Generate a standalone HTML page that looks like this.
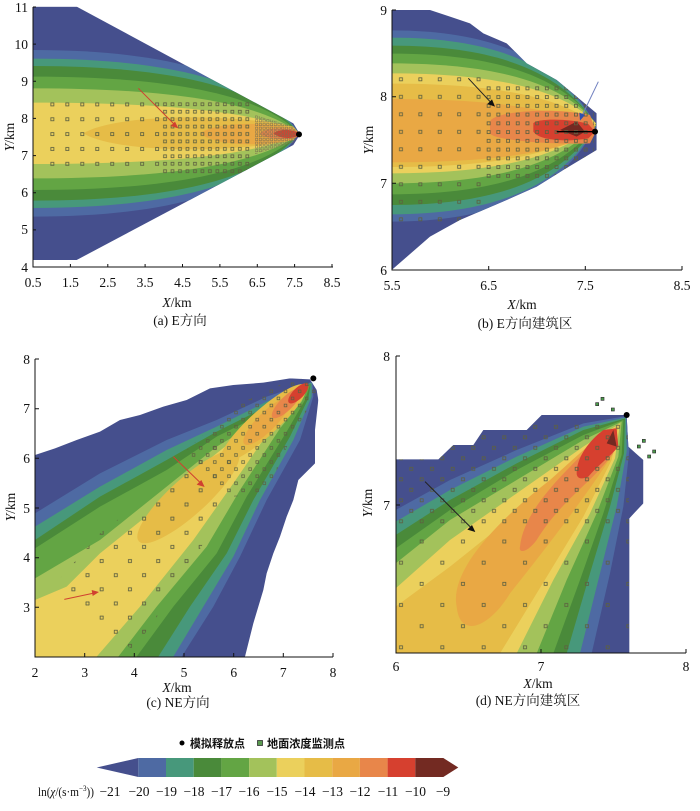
<!DOCTYPE html>
<html><head><meta charset="utf-8"><style>
html,body{margin:0;padding:0;background:#fff;}
svg{display:block;}
text{font-family:"Liberation Serif","Noto Serif CJK SC",serif;fill:#111;}
.t{font-size:13.5px;}
.cj{font-family:"Liberation Serif","Noto Sans CJK SC",sans-serif;}
</style></head><body>
<svg width="700" height="811" viewBox="0 0 700 811" xmlns="http://www.w3.org/2000/svg">
<defs>
<path id="ua" d="M100,-1 C560,-1 800,-0.6 897,0 C800,0.6 560,1 100,1Z"/>
<path id="ub" d="M125,-1 C470,-1 650,-0.6 738,0 C650,0.6 470,1 125,1Z"/>
<clipPath id="envA"><polygon points="100,20 230,20 880,370 900,403 880,435 230,780 100,780"/></clipPath>
<clipPath id="tipA"><polygon points="765,345 880,380 897,403 880,428 765,462"/></clipPath>
<clipPath id="envB"><polygon points="125,30 240,30 300,50 360,70 400,100 470,130 530,190 620,240 680,290 740,340 740,450 640,510 560,560 470,600 330,660 240,710 125,810"/></clipPath>
<clipPath id="envC"><polygon points="105,345 165,325 230,300 300,275 360,240 420,225 490,200 560,180 630,145 700,135 790,128 870,115 930,118 950,150 955,180 945,270 945,370 895,420 880,480 860,530 840,590 820,640 800,700 790,750 760,850 735,950 105,950"/></clipPath>
<clipPath id="envD"><polygon points="137,358 265,358 310,315 370,315 400,270 530,270 575,225 830,225 835,320 880,360 880,490 838,535 838,940 137,940"/></clipPath>
<clipPath id="cpc1"><polygon points="140,760 300,580 560,380 650,300 720,340 640,560 520,760 400,930 330,880 250,820"/></clipPath>
<clipPath id="cpc2"><polygon points="560,330 700,200 850,130 930,110 950,160 870,300 800,460 700,470 620,420"/></clipPath>
<pattern id="pa1" patternUnits="userSpaceOnUse" x="134.55" y="290.7" width="44.9" height="44.6"><rect x="18" y="18" width="9" height="9" fill="none" stroke="#5d6040" stroke-width="2.5"/></pattern>
<pattern id="pa2" patternUnits="userSpaceOnUse" x="483.8" y="323.85" width="22.45" height="22.3"><rect x="7" y="7" width="8.5" height="8.5" fill="none" stroke="#5d6040" stroke-width="2.5"/></pattern>
<pattern id="pa3" patternUnits="userSpaceOnUse" x="764.4" y="334.4" width="11.2" height="11.2"><rect x="2" y="2" width="7" height="7" fill="none" stroke="#7a7050" stroke-width="1.6"/></pattern>
<pattern id="pb1" patternUnits="userSpaceOnUse" x="123.9" y="211.75" width="58.2" height="52.5"><rect x="24.5" y="21.7" width="9" height="9" fill="none" stroke="#5d6040" stroke-width="2.5"/></pattern>
<pattern id="pb2" patternUnits="userSpaceOnUse" x="401.45" y="251.9" width="29.1" height="26.25"><rect x="10" y="8.6" width="9" height="9" fill="none" stroke="#5d6040" stroke-width="2.5"/></pattern>
<pattern id="pc1" patternUnits="userSpaceOnUse" x="-30" y="-30" width="60" height="60" patternTransform="translate(305,748) rotate(45)"><rect x="25.5" y="25.5" width="9" height="9" fill="none" stroke="#5d6040" stroke-width="2.5" transform="rotate(-45 30 30)"/></pattern>
<pattern id="pc2" patternUnits="userSpaceOnUse" x="-15" y="-15" width="30" height="30" patternTransform="translate(305,748) rotate(45)"><rect x="11" y="11" width="8" height="8" fill="none" stroke="#5d6040" stroke-width="2.3" transform="rotate(-45 15 15)"/></pattern>
<pattern id="pd1" patternUnits="userSpaceOnUse" x="122" y="890.25" width="124" height="127"><rect x="26.5" y="27.25" width="9" height="9" fill="none" stroke="#5d6040" stroke-width="2.5"/><rect x="88.5" y="90.75" width="9" height="9" fill="none" stroke="#5d6040" stroke-width="2.5"/></pattern>
<pattern id="pd2" patternUnits="userSpaceOnUse" x="137.5" y="906.25" width="62" height="63"><rect x="11" y="11.25" width="9" height="9" fill="none" stroke="#5d6040" stroke-width="2.5"/><rect x="42" y="42.75" width="9" height="9" fill="none" stroke="#5d6040" stroke-width="2.5"/></pattern>
</defs>

<!-- Panel A -->
<g transform="scale(0.33333)">
<g clip-path="url(#envA)">
<rect x="100" y="20" width="800" height="760" fill="#454f8d"/>
<use href="#ua" transform="translate(0,400) scale(1,250)" fill="#4e6aa3"/>
<use href="#ua" transform="translate(0,400) scale(1,224)" fill="#47987b"/>
<use href="#ua" transform="translate(0,400) scale(1,202)" fill="#4a8a3a"/>
<use href="#ua" transform="translate(0,400) scale(1,170)" fill="#63a544"/>
<use href="#ua" transform="translate(0,400) scale(1,135)" fill="#a3c25b"/>
<use href="#ua" transform="translate(0,400) scale(1,92)" fill="#ebd05c"/>
<path d="M250,400 C350,340 700,340 880,380 L897,400 L880,420 C700,460 350,460 250,400Z" fill="#e6bc47"/>
<path d="M600,400 C650,365 800,365 880,385 L897,400 L880,418 C800,440 650,440 600,400Z" fill="#e9a844"/>
<path d="M780,400 C800,380 870,382 893,395 L893,410 C870,422 800,420 780,400Z" fill="#e8864a"/>
<path d="M820,400 C840,385 870,388 893,397 L893,408 C870,418 840,415 820,400Z" fill="#d6402f"/>
</g>
<rect x="145" y="300" width="340" height="205" fill="url(#pa1)"/>
<rect x="485" y="302" width="265" height="225" fill="url(#pa2)" clip-path="url(#envA)"/>
<rect x="765" y="335" width="122" height="130" fill="url(#pa3)" clip-path="url(#tipA)"/>
<line x1="415" y1="265" x2="525" y2="375" stroke="#d04030" stroke-width="3"/>
<polygon points="535,385 512,378 525,365" fill="#d04030"/>
<circle cx="897" cy="403" r="9" fill="#000"/>
</g>

<!-- Panel B -->
<g transform="translate(350,0) scale(0.33333)">
<g clip-path="url(#envB)">
<rect x="120" y="20" width="640" height="800" fill="#454f8d"/>
<use href="#ub" transform="translate(0,378) scale(1,287)" fill="#4e6aa3"/>
<use href="#ub" transform="translate(0,378) scale(1,265)" fill="#47987b"/>
<use href="#ub" transform="translate(0,376) scale(1,239)" fill="#4a8a3a"/>
<use href="#ub" transform="translate(0,372) scale(1,211)" fill="#63a544"/>
<use href="#ub" transform="translate(0,370) scale(1,180)" fill="#a3c25b"/>
<use href="#ub" transform="translate(0,370) scale(1,150)" fill="#ebd05c"/>
<use href="#ub" transform="translate(0,376) scale(1,125)" fill="#e6bc47"/>
<use href="#ub" transform="translate(0,392) scale(1,95)" fill="#e9a844"/>
<path d="M420,365 C430,335 600,320 720,345 L738,395 L720,430 C600,435 430,420 420,400Z" fill="#e8864a"/>
<path d="M550,370 C560,355 660,355 715,372 L735,395 L715,415 C660,425 570,425 550,395Z" fill="#d6402f"/>
<polygon points="630,390 680,365 705,395 680,410" fill="#732a22"/>
</g>
<rect x="130" y="225" width="272" height="445" fill="url(#pb1)" clip-path="url(#envB)"/>
<rect x="402" y="250" width="330" height="285" fill="url(#pb2)" clip-path="url(#envB)"/>
<line x1="620" y1="395" x2="735" y2="395" stroke="#000" stroke-width="4"/>
<line x1="355" y1="235" x2="425" y2="310" stroke="#222" stroke-width="3"/>
<polygon points="435,320 412,312 426,298" fill="#111"/>
<line x1="745" y1="245" x2="697" y2="345" stroke="#7080c0" stroke-width="3"/>
<polygon points="690,362 688,338 705,345" fill="#3050b0"/>
<circle cx="735" cy="395" r="9" fill="#000"/>
</g>

<!-- Panel C -->
<g transform="translate(0,340) scale(0.33333)">
<g clip-path="url(#envC)">
<rect x="100" y="100" width="860" height="860" fill="#454f8d"/>
<path d="M105,520 L300,400 L500,300 L650,240 L800,170 L938,125 L940,170 L900,300 L800,480 L720,650 L640,800 L545,950 L105,950Z" fill="#4e6aa3"/>
<path d="M105,560 L300,440 L500,330 L650,260 L800,185 L935,128 L935,170 L880,300 L780,480 L700,650 L610,800 L520,950 L105,950Z" fill="#47987b"/>
<path d="M105,600 L300,470 L500,360 L650,275 L800,200 L932,132 L925,175 L870,290 L760,480 L680,640 L570,800 L475,950 L105,950Z" fill="#4a8a3a"/>
<path d="M105,625 L300,500 L500,390 L650,290 L800,215 L930,135 L915,180 L860,275 L740,470 L650,640 L520,800 L410,950 L105,950Z" fill="#63a544"/>
<path d="M105,715 L300,600 L500,440 L650,320 L800,230 L925,140 L905,185 L840,265 L720,450 L620,620 L470,800 L355,950 L105,950Z" fill="#a3c25b"/>
<path d="M105,780 L200,740 L300,640 L450,520 L600,380 L750,260 L850,190 L920,145 L890,195 L820,255 L700,430 L580,600 L420,800 L290,950 L105,950Z" fill="#ebd05c"/>
<ellipse cx="565" cy="470" rx="200" ry="55" transform="rotate(-42 565 470)" fill="#e6bc47"/>
<ellipse cx="790" cy="250" rx="170" ry="40" transform="rotate(-42 790 250)" fill="#e6bc47"/>
<ellipse cx="800" cy="245" rx="95" ry="28" transform="rotate(-45 800 245)" fill="#e9a844"/>
<ellipse cx="860" cy="190" rx="60" ry="20" transform="rotate(-45 860 190)" fill="#e8864a"/>
<ellipse cx="895" cy="160" rx="40" ry="16" transform="rotate(-45 895 160)" fill="#d6402f"/>
</g>
<rect x="100" y="300" width="700" height="650" fill="url(#pc1)" clip-path="url(#cpc1)"/>
<rect x="540" y="100" width="430" height="400" fill="url(#pc2)" clip-path="url(#cpc2)"/>
<line x1="520" y1="350" x2="605" y2="432" stroke="#d04030" stroke-width="3"/>
<polygon points="614,441 590,434 604,420" fill="#d04030"/>
<line x1="193" y1="778" x2="283" y2="759" stroke="#d04030" stroke-width="3"/>
<polygon points="297,756 278,768 275,750" fill="#d04030"/>
<circle cx="940" cy="115" r="9" fill="#000"/>
</g>

<!-- Panel D -->
<g transform="translate(350,340) scale(0.33333)">
<g clip-path="url(#envD)">
<rect x="130" y="220" width="760" height="730" fill="#454f8d"/>
<path d="M137,510 L300,420 L500,330 L700,250 L830,228 L838,330 L820,500 L780,700 L725,940 L137,940Z" fill="#4e6aa3"/>
<path d="M137,545 L300,450 L500,350 L700,260 L828,232 L830,335 L800,500 L750,700 L690,940 L137,940Z" fill="#47987b"/>
<path d="M137,585 L300,480 L500,370 L700,270 L825,236 L822,340 L780,500 L720,700 L650,940 L137,940Z" fill="#4a8a3a"/>
<path d="M137,625 L300,510 L500,390 L700,285 L820,240 L815,345 L760,520 L690,720 L610,940 L137,940Z" fill="#63a544"/>
<path d="M137,670 L300,540 L500,420 L700,300 L815,245 L805,350 L740,520 L650,720 L560,940 L137,940Z" fill="#a3c25b"/>
<path d="M137,745 L300,600 L500,460 L700,320 L810,250 L795,355 L720,520 L610,720 L500,940 L137,940Z" fill="#ebd05c"/>
<path d="M137,800 L300,680 L500,520 L700,340 L805,260 L785,360 L700,530 L560,760 L450,940 L137,940Z" fill="#e6bc47"/>
<path d="M320,800 C300,700 420,560 600,420 C680,350 760,270 800,262 L790,340 C740,420 640,560 480,760 C420,860 330,900 320,800Z" fill="#e9a844"/>
<path d="M510,620 C520,520 620,420 700,340 L790,265 L795,330 C740,420 640,470 560,600 C530,640 505,640 510,620Z" fill="#e8864a"/>
<path d="M680,400 C680,350 720,300 760,270 L800,265 L805,320 C780,350 740,380 715,410 C695,420 680,415 680,400Z" fill="#d6402f"/>
<polygon points="770,310 790,270 800,320" fill="#732a22"/>
</g>
<rect x="137" y="560" width="700" height="380" fill="url(#pd1)" clip-path="url(#envD)"/>
<rect x="137" y="235" width="700" height="325" fill="url(#pd2)" clip-path="url(#envD)"/>
<line x1="225" y1="425" x2="366" y2="566" stroke="#222" stroke-width="3"/>
<polygon points="376,576 352,569 366,555" fill="#111"/>
<g fill="#4a9a4a" stroke="#333" stroke-width="2"><rect x="737" y="188" width="9" height="9"/><rect x="753" y="172" width="9" height="9"/><rect x="784" y="204" width="9" height="9"/><rect x="862" y="315" width="9" height="9"/><rect x="877" y="298" width="9" height="9"/><rect x="893" y="345" width="9" height="9"/><rect x="908" y="330" width="9" height="9"/></g>
<circle cx="830" cy="225" r="9" fill="#000"/>
</g>

<!-- Axes -->
<g stroke="#111" stroke-width="1" fill="none">
<path d="M33,7 V267 H333"/>
<path d="M392,10 V270 H682"/>
<path d="M35,359 V657 H333"/>
<path d="M396,356 V653 H686"/>
<path d="M70.4,267v-3M107.8,267v-3M145.1,267v-3M182.5,267v-3M219.9,267v-3M257.3,267v-3M294.6,267v-3M332,267v-3M33,229.9h3M33,192.7h3M33,155.6h3M33,118.4h3M33,81.3h3M33,44.1h3M33,7h3"/>
<path d="M488.7,270v-4M585.3,270v-4M682,270v-4M392,183.3h4M392,96.7h4M392,10h4"/>
<path d="M84.7,657v-4M134.3,657v-4M184,657v-4M233.7,657v-4M283.3,657v-4M333,657v-4M35,607.3h4M35,557.7h4M35,508h4M35,458.3h4M35,408.7h4M35,359h4"/>
<path d="M541,653v-4M686,653v-4M396,505h4M396,356h4"/>
</g>

<!-- Tick labels -->
<g class="t" text-anchor="middle">
<text x="33" y="287">0.5</text><text x="70.4" y="287">1.5</text><text x="107.8" y="287">2.5</text><text x="145.1" y="287">3.5</text><text x="182.5" y="287">4.5</text><text x="219.9" y="287">5.5</text><text x="257.3" y="287">6.5</text><text x="294.6" y="287">7.5</text><text x="332" y="287">8.5</text>
<text x="392" y="290">5.5</text><text x="488.7" y="290">6.5</text><text x="585.3" y="290">7.5</text><text x="682" y="290">8.5</text>
<text x="35" y="677">2</text><text x="84.7" y="677">3</text><text x="134.3" y="677">4</text><text x="184" y="677">5</text><text x="233.7" y="677">6</text><text x="283.3" y="677">7</text><text x="333" y="677">8</text>
<text x="396" y="671">6</text><text x="541" y="671">7</text><text x="686" y="671">8</text>
</g>
<g class="t" text-anchor="end">
<text x="28" y="12">11</text><text x="28" y="49">10</text><text x="28" y="86">9</text><text x="28" y="123">8</text><text x="28" y="160">7</text><text x="28" y="197">6</text><text x="28" y="234">5</text><text x="28" y="272">4</text>
<text x="387" y="15">9</text><text x="387" y="101">8</text><text x="387" y="188">7</text><text x="387" y="275">6</text>
<text x="30" y="612">3</text><text x="30" y="562">4</text><text x="30" y="513">5</text><text x="30" y="463">6</text><text x="30" y="413">7</text><text x="30" y="364">8</text>
<text x="390" y="510">7</text><text x="390" y="361">8</text>
</g>

<!-- Axis titles -->
<g class="t" text-anchor="middle" font-size="14">
<text x="177" y="307"><tspan font-style="italic">X</tspan>/km</text>
<text x="522" y="309"><tspan font-style="italic">X</tspan>/km</text>
<text x="177" y="692"><tspan font-style="italic">X</tspan>/km</text>
<text x="538" y="688"><tspan font-style="italic">X</tspan>/km</text>
<text transform="translate(14,137) rotate(-90)"><tspan font-style="italic">Y</tspan>/km</text>
<text transform="translate(373,140) rotate(-90)"><tspan font-style="italic">Y</tspan>/km</text>
<text transform="translate(15,507) rotate(-90)"><tspan font-style="italic">Y</tspan>/km</text>
<text transform="translate(372,503) rotate(-90)"><tspan font-style="italic">Y</tspan>/km</text>
<text x="180" y="325">(a) E方向</text>
<text x="525" y="328">(b) E方向建筑区</text>
<text x="178" y="707">(c) NE方向</text>
<text x="528" y="705">(d) NE方向建筑区</text>
</g>

<!-- Legend -->
<circle cx="182" cy="743" r="2.5" fill="#000"/>
<text x="190" y="747.5" font-size="11.5" class="cj" font-weight="bold" textLength="55" lengthAdjust="spacingAndGlyphs">模拟释放点</text>
<rect x="257.5" y="740.5" width="5" height="5" fill="#5a9a50" stroke="#333" stroke-width="0.8"/>
<text x="267" y="747.5" font-size="11.5" class="cj" font-weight="bold" textLength="78" lengthAdjust="spacingAndGlyphs">地面浓度监测点</text>

<!-- Colorbar -->
<polygon points="96.7,767.5 138.3,758 138.3,777" fill="#454f8d"/>
<rect x="138.3" y="758" width="27.7" height="19" fill="#4e6aa3"/>
<rect x="166" y="758" width="27.7" height="19" fill="#47987b"/>
<rect x="193.7" y="758" width="27.7" height="19" fill="#4a8a3a"/>
<rect x="221.4" y="758" width="27.7" height="19" fill="#63a544"/>
<rect x="249.1" y="758" width="27.7" height="19" fill="#a3c25b"/>
<rect x="276.8" y="758" width="27.7" height="19" fill="#ebd05c"/>
<rect x="304.5" y="758" width="27.7" height="19" fill="#e6bc47"/>
<rect x="332.2" y="758" width="27.7" height="19" fill="#e9a844"/>
<rect x="359.9" y="758" width="27.7" height="19" fill="#e8864a"/>
<rect x="387.6" y="758" width="27.7" height="19" fill="#d6402f"/>
<rect x="415.3" y="758" width="28.2" height="19" fill="#732a22"/>
<polygon points="443.3,758 458.3,767.5 443.3,777" fill="#732a22"/>
<g class="t" text-anchor="middle">
<text x="110" y="796">−21</text><text x="139" y="796">−20</text><text x="166.5" y="796">−19</text><text x="194" y="796">−18</text><text x="221.5" y="796">−17</text><text x="249" y="796">−16</text><text x="277" y="796">−15</text><text x="305" y="796">−14</text><text x="332.5" y="796">−13</text><text x="360" y="796">−12</text><text x="388" y="796">−11</text><text x="415.5" y="796">−10</text><text x="443" y="796">−9</text>
</g>
<text x="38" y="796" font-size="12.5" textLength="56" lengthAdjust="spacingAndGlyphs">ln(<tspan font-style="italic">χ</tspan>/(s·m<tspan font-size="8" dy="-5">−3</tspan><tspan dy="5">))</tspan></text>
</svg>
</body></html>
